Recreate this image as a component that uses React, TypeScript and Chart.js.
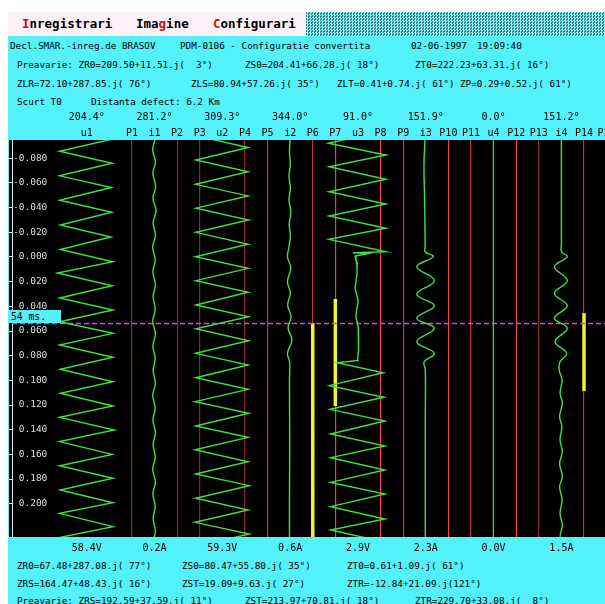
import React, { useEffect, useRef } from "react";
import { Chart, registerables } from "chart.js";

Chart.register(...registerables);

// ---------- data ----------
const timeTicks = [-0.08, -0.06, -0.04, -0.02, 0, 0.02, 0.04, 0.06, 0.08, 0.1, 0.12, 0.14, 0.16, 0.18, 0.2];
const timeMin = -0.09485;
const timeMax = 0.227;
const slotMin = -3.3046;
const slotMax = 22.9285;

const channelNames = ["u1", "P1", "i1", "P2", "P3", "u2", "P4", "P5", "i2", "P6", "P7", "u3", "P8", "P9", "i3", "P10", "P11", "u4", "P12", "P13", "i4", "P14", "P15"];
const channelSlots = [0, 2, 3, 4, 5, 6, 7, 8, 9, 10, 11, 12, 13, 14, 15, 16, 17, 18, 19, 20, 21, 22, 23];
const DARK = "#8e2a2a";
const MID = "#c03434";
const BRIGHT = "#ee4646";
const channelLineColors = ["", DARK, "", DARK, DARK, "", DARK, MID, "", MID, BRIGHT, "", BRIGHT, MID, "", BRIGHT, MID, "", BRIGHT, DARK, "", MID, MID];

const phaseSlots = [0, 3, 6, 9, 12, 15, 18, 21];
const phaseAngles = ["204.4°", "281.2°", "309.3°", "344.0°", "91.0°", "151.9°", "0.0°", "151.2°"];
const magnitudes = ["58.4V", "0.2A", "59.3V", "0.6A", "2.9V", "2.3A", "0.0V", "1.5A"];

const u1Time = [-0.0957, -0.0857, -0.076, -0.0658, -0.0563, -0.046, -0.0363, -0.0259, -0.0162, -0.0061, 0.0039, 0.013, 0.0233, 0.0332, 0.043, 0.0525, 0.0619, 0.0713, 0.0813, 0.091, 0.1011, 0.1105, 0.1208, 0.13, 0.1403, 0.1497, 0.16, 0.1692, 0.1794, 0.1889, 0.1992, 0.2078, 0.2186, 0.2274];
const u1Value = [1.16, -1.2, 1.12, -1.2, 1.09, -1.2, 1.11, -1.17, 1.07, -1.17, 1.16, -1.29, 1.13, -1.2, 1.16, -1.2, 1.16, -1.2, 1.16, -1.17, 1.16, -1.17, 1.16, -1.2, 1.22, -1.2, 1.13, -1.2, 1.16, -1.17, 1.16, -1.2, 1.16, -1.2];

const u2Time = [-0.0983, -0.0888, -0.0786, -0.0691, -0.0589, -0.0495, -0.0396, -0.03, -0.02, -0.0103, -0.0002, 0.0092, 0.0192, 0.0286, 0.0389, 0.0484, 0.0582, 0.0679, 0.0781, 0.0876, 0.0979, 0.1073, 0.1173, 0.1267, 0.137, 0.1462, 0.1563, 0.166, 0.1759, 0.1854, 0.1956, 0.2051, 0.2151, 0.2246, 0.2347];
const u2Value = [-1.17, 1.14, -1.17, 1.14, -1.19, 1.14, -1.17, 1.16, -1.17, 1.14, -1.19, 1.14, -1.17, 1.14, -1.17, 1.16, -1.17, 1.16, -1.18, 1.14, -1.18, 1.14, -1.21, 1.17, -1.18, 1.14, -1.21, 1.14, -1.18, 1.19, -1.18, 1.14, -1.21, 1.19, -1.18];

const u3Time = [-0.1026, -0.0922, -0.0827, -0.0732, -0.063, -0.0529, -0.043, -0.0332, -0.0233, -0.0143, -0.0043,
  -0.0035, -0.0028, -0.0008, 0.0024, 0.0051, 0.0132, 0.0254, 0.0322, 0.0362, 0.043, 0.0484, 0.0565, 0.0673, 0.0754, 0.0821, 0.0839,
  0.0857, 0.0938, 0.1043, 0.1137, 0.1235, 0.133, 0.1435, 0.1532, 0.1627, 0.1727, 0.1827, 0.1921, 0.2024, 0.2124, 0.2213, 0.2311];
const u3Value = [1.24, -1.31, 1.24, -1.28, 1.24, -1.28, 1.24, -1.28, 1.24, -1.28, 1.24,
  -0.23, 0.44, -0.13, -0.09, -0.03, -0.04, -0.13, -0.03, 0.01, -0.06, -0.09, 0.01, 0.04, 0.01, -0.01, 0.01,
  -0.92, 1.12, -1.27, 1.15, -1.24, 1.19, -1.21, 1.19, -1.21, 1.19, -1.21, 1.19, -1.21, 1.19, -1.21, 1.19];

const i1Time = [-0.0955, -0.087, -0.077, -0.068, -0.057, -0.048, -0.0375, -0.028, -0.0175, -0.008, 0.0025, 0.012, 0.0225, 0.032, 0.0425, 0.052, 0.0625, 0.072, 0.0825, 0.092, 0.1025, 0.112, 0.1225, 0.132, 0.1425, 0.152, 0.1625, 0.172, 0.1825, 0.192, 0.2025, 0.212, 0.2225, 0.229];
const i1Value = [0.03, -0.08, 0.04, -0.07, 0.05, -0.07, 0.07, -0.06, 0.04, -0.08, 0.03, -0.07, 0.04, -0.06, 0.03, -0.08, 0.04, -0.07, 0.03, -0.06, 0.04, -0.08, 0.03, -0.07, 0.04, -0.06, 0.03, -0.08, 0.04, -0.07, 0.03, -0.06, 0.04, -0.05];

const i2Time = [-0.0949, -0.0851, -0.0754, -0.0657, -0.0559, -0.0462, -0.0365, -0.0268, -0.017, -0.0073, 0.0, 0.0089, 0.02, 0.0292, 0.0389, 0.0484, 0.0576, 0.0673, 0.0781, 0.0851, 0.1, 0.15, 0.2, 0.23];
const i2Value = [0.0, -0.03, 0.01, -0.05, 0.01, -0.05, 0.03, -0.04, 0.01, -0.06, -0.12, 0.03, -0.12, 0.01, -0.11, 0.04, -0.09, 0.08, -0.12, -0.02, -0.03, -0.02, -0.03, -0.03];

const i3Time = [-0.096, -0.075, -0.046, -0.014, -0.008, -0.0043, -0.0002, 0.0079, 0.0192, 0.0302, 0.0395, 0.0497, 0.0578, 0.0687, 0.0781, 0.0849, 0.0916, 0.13, 0.18, 0.23];
const i3Value = [-0.03, -0.08, -0.05, -0.03, -0.03, -0.03, 0.33, -0.4, 0.38, -0.4, 0.38, -0.4, 0.38, -0.4, 0.38, -0.07, -0.02, -0.02, -0.02, -0.02];

const i4Time = [-0.096, -0.01, -0.0043, -0.0002, 0.0079, 0.0192, 0.0294, 0.0395, 0.0497, 0.0578, 0.0687, 0.0781, 0.0849, 0.0916, 0.0997, 0.1103, 0.1184, 0.1295, 0.1376, 0.1484, 0.1578, 0.1673, 0.1781, 0.1862, 0.197, 0.2078, 0.2173, 0.2254, 0.23];
const i4Value = [0.0, 0.0, 0.0, 0.26, -0.31, 0.26, -0.31, 0.26, -0.31, 0.26, -0.28, 0.23, -0.06, -0.1, 0.03, -0.06, 0.04, -0.08, 0.02, -0.06, 0.04, -0.08, 0.04, -0.08, 0.03, -0.06, 0.04, -0.05, -0.03];

const u4Time = [-0.096, 0.23];
const u4Value = [-0.01, -0.01];

const cursorTime = 0.054;
const barSlots = [10, 11, 22];
const barStart = [0.0535, 0.034, 0.0456];
const barEnd = [0.23, 0.1208, 0.1086];

// ---------- styles ----------
const GREEN = "#40e040";
const CYAN = "#53f1f9";
const FONT = "'DejaVu Sans Mono', 'Liberation Mono', monospace";

const slotOf = (name: string) => channelSlots[channelNames.indexOf(name)];

function wave(name: string, times: number[], values: number[], tension: number, color = GREEN) {
  const s = slotOf(name);
  return {
    data: times.map((t, i) => ({ x: s + values[i], y: t })),
    showLine: true,
    borderColor: color,
    borderWidth: 1.4,
    pointRadius: 0,
    tension,
    fill: false,
  };
}

const scopeBackground = {
  id: "scopeBackground",
  beforeDraw(chart: any) {
    const { ctx, chartArea } = chart;
    ctx.save();
    ctx.fillStyle = "#000";
    ctx.fillRect(chartArea.left - 3, chartArea.top, chartArea.right - chartArea.left + 3, chartArea.bottom - chartArea.top);
    ctx.restore();
  },
};

const noPad = (scale: any) => {
  scale.paddingLeft = 0;
  scale.paddingRight = 0;
  scale.paddingTop = 0;
  scale.paddingBottom = 0;
};

function T(x: number, y: number, s: string, extra: any = {}) {
  return (
    <span
      style={{
        position: "absolute",
        left: x,
        top: y - 6,
        lineHeight: "12px",
        fontSize: 9.3,
        whiteSpace: "pre",
        fontFamily: FONT,
        color: "#000",
        ...extra,
      }}
    >
      {s}
    </span>
  );
}

export default function App() {
  const ref = useRef<HTMLCanvasElement>(null);

  useEffect(() => {
    const datasets: any[] = [
      wave("u1", u1Time, u1Value, 0),
      wave("u2", u2Time, u2Value, 0),
      wave("u3", u3Time, u3Value, 0),
      wave("i1", i1Time, i1Value, 0.4),
      wave("i2", i2Time, i2Value, 0.4),
      wave("i3", i3Time, i3Value, 0.4),
      wave("i4", i4Time, i4Value, 0.4),
      wave("u4", u4Time, u4Value, 0, "#38c838"),
      {
        data: [
          { x: slotMin, y: cursorTime },
          { x: slotMax, y: cursorTime },
        ],
        showLine: true,
        borderColor: "#e040e0",
        borderWidth: 1.5,
        borderDash: [5, 3],
        pointRadius: 0,
      },
      ...barSlots.map((s, i) => ({
        data: [
          { x: s, y: barStart[i] },
          { x: s, y: barEnd[i] },
        ],
        showLine: true,
        borderColor: "#f2f23a",
        borderWidth: 3.5,
        borderCapStyle: "butt",
        pointRadius: 0,
      })),
    ];

    const labelFont = { family: FONT, size: 10 };
    const chart = new Chart(ref.current as HTMLCanvasElement, {
      type: "scatter",
      data: { datasets },
      plugins: [scopeBackground],
      options: {
        animation: false,
        responsive: false,
        events: [],
        layout: { padding: 0 },
        plugins: { legend: { display: false }, tooltip: { enabled: false } },
        scales: {
          x: {
            type: "linear",
            position: "top",
            weight: 0,
            min: slotMin,
            max: slotMax,
            afterBuildTicks: (axis: any) => {
              axis.ticks = channelSlots.map((v) => ({ value: v }));
            },
            afterFit: (scale: any) => {
              scale.height = 16;
              noPad(scale);
            },
            ticks: {
              autoSkip: false,
              maxRotation: 0,
              minRotation: 0,
              padding: 1,
              color: "#000",
              font: labelFont,
              callback: (_v: any, i: number) => channelNames[i],
            },
            grid: {
              display: true,
              drawOnChartArea: true,
              drawTicks: false,
              lineWidth: 1.2,
              color: (c: any) => channelLineColors[c.index] || "rgba(0,0,0,0)",
            },
            border: { display: false },
          },
          xa: {
            type: "linear",
            axis: "x",
            position: "top",
            weight: 1,
            min: slotMin,
            max: slotMax,
            afterBuildTicks: (axis: any) => {
              axis.ticks = phaseSlots.map((v) => ({ value: v }));
            },
            afterFit: (scale: any) => {
              scale.height = 15;
              noPad(scale);
            },
            ticks: {
              autoSkip: false,
              maxRotation: 0,
              minRotation: 0,
              padding: 1,
              color: "#000",
              font: labelFont,
              callback: (_v: any, i: number) => phaseAngles[i],
            },
            grid: { display: false, drawTicks: false },
            border: { display: false },
          },
          xm: {
            type: "linear",
            axis: "x",
            position: "bottom",
            min: slotMin,
            max: slotMax,
            afterBuildTicks: (axis: any) => {
              axis.ticks = phaseSlots.map((v) => ({ value: v }));
            },
            afterFit: (scale: any) => {
              scale.height = 20;
              noPad(scale);
            },
            ticks: {
              autoSkip: false,
              maxRotation: 0,
              minRotation: 0,
              padding: 5,
              color: "#000",
              font: labelFont,
              callback: (_v: any, i: number) => magnitudes[i],
            },
            grid: { display: false, drawTicks: false },
            border: { display: false },
          },
          y: {
            type: "linear",
            position: "left",
            reverse: true,
            min: timeMin,
            max: timeMax,
            afterBuildTicks: (axis: any) => {
              axis.ticks = timeTicks.map((v) => ({ value: v }));
            },
            afterFit: (scale: any) => {
              scale.width = 4;
              noPad(scale);
            },
            ticks: {
              mirror: true,
              crossAlign: "far",
              padding: 1,
              color: "#dcdcdc",
              font: { family: FONT, size: 9.5 },
              callback: (v: any) => Number(v).toFixed(3),
            },
            grid: {
              drawOnChartArea: false,
              drawTicks: true,
              tickLength: 3,
              color: "#e6e6e6",
            },
            border: { display: true, color: "#e6e6e6", width: 1 },
          },
        },
      } as any,
    } as any);
    return () => chart.destroy();
  }, []);

  const menuFont = { fontSize: 12.5, fontWeight: "bold" as const };
  const red = { color: "#c41010" };

  return (
    <div
      style={{
        position: "fixed",
        left: 0,
        top: 0,
        width: 605,
        height: 604,
        overflow: "hidden",
        background: "#fff",
      }}
    >
      <div style={{ position: "absolute", left: 8, top: 12, width: 298, height: 24, background: "#fbf1f9" }} />
      <div
        style={{
          position: "absolute",
          left: 306,
          top: 12,
          width: 299,
          height: 24,
          background: "repeating-conic-gradient(#86f6fb 0% 25%, #3f7482 0% 50%) 0 0 / 3px 3px",
        }}
      />
      <span style={{ position: "absolute", left: 22, top: 17, lineHeight: "14px", fontFamily: FONT, whiteSpace: "pre", ...menuFont }}>
        <span style={red}>I</span>nregistrari
      </span>
      <span style={{ position: "absolute", left: 136, top: 17, lineHeight: "14px", fontFamily: FONT, whiteSpace: "pre", ...menuFont }}>
        Ima<span style={red}>g</span>ine
      </span>
      <span style={{ position: "absolute", left: 213, top: 17, lineHeight: "14px", fontFamily: FONT, whiteSpace: "pre", ...menuFont }}>
        <span style={red}>C</span>onfigurari
      </span>

      <div style={{ position: "absolute", left: 8, top: 36, width: 597, height: 568, background: CYAN }} />

      {T(10, 46, "Decl.SMAR.-inreg.de BRASOV")}
      {T(180, 46, "PDM-0106 - Configuratie convertita")}
      {T(411, 46, "02-06-1997")}
      {T(477, 46, "19:09:40")}

      {T(17, 65, "Preavarie: ZR0=209.50+11.51.j(  3°)")}
      {T(245, 65, "ZS0=204.41+66.28.j( 18°)")}
      {T(415, 65, "ZT0=222.23+63.31.j( 16°)")}

      {T(17, 84, "ZLR=72.10+287.85.j( 76°)")}
      {T(191, 84, "ZLS=80.94+57.26.j( 35°)")}
      {T(337, 84, "ZLT=0.41+0.74.j( 61°)")}
      {T(460, 84, "ZP=0.29+0.52.j( 61°)")}

      {T(17, 102, "Scurt T0")}
      {T(91, 102, "Distanta defect: 6.2 Km")}

      <canvas
        ref={ref}
        width={597}
        height={448}
        style={{ position: "absolute", left: 8, top: 109, width: 597, height: 448 }}
      />

      <div
        style={{
          position: "absolute",
          left: 9,
          top: 310,
          width: 52,
          height: 13,
          background: CYAN,
          fontFamily: FONT,
          fontSize: 9.7,
          lineHeight: "13px",
          paddingLeft: 2,
          boxSizing: "border-box",
          whiteSpace: "pre",
          color: "#000",
        }}
      >
        54 ms.
      </div>

      {T(17, 566, "ZR0=67.48+287.08.j( 77°)")}
      {T(182, 566, "ZS0=80.47+55.80.j( 35°)")}
      {T(347, 566, "ZT0=0.61+1.09.j( 61°)")}

      {T(17, 584, "ZRS=164.47+48.43.j( 16°)")}
      {T(182, 584, "ZST=19.09+9.63.j( 27°)")}
      {T(347, 584, "ZTR=-12.84+21.09.j(121°)")}

      {T(17, 601, "Preavarie: ZRS=192.59+37.59.j( 11°)")}
      {T(245, 601, "ZST=213.97+70.81.j( 18°)")}
      {T(415, 601, "ZTR=229.70+33.08.j(  8°)")}
    </div>
  );
}
